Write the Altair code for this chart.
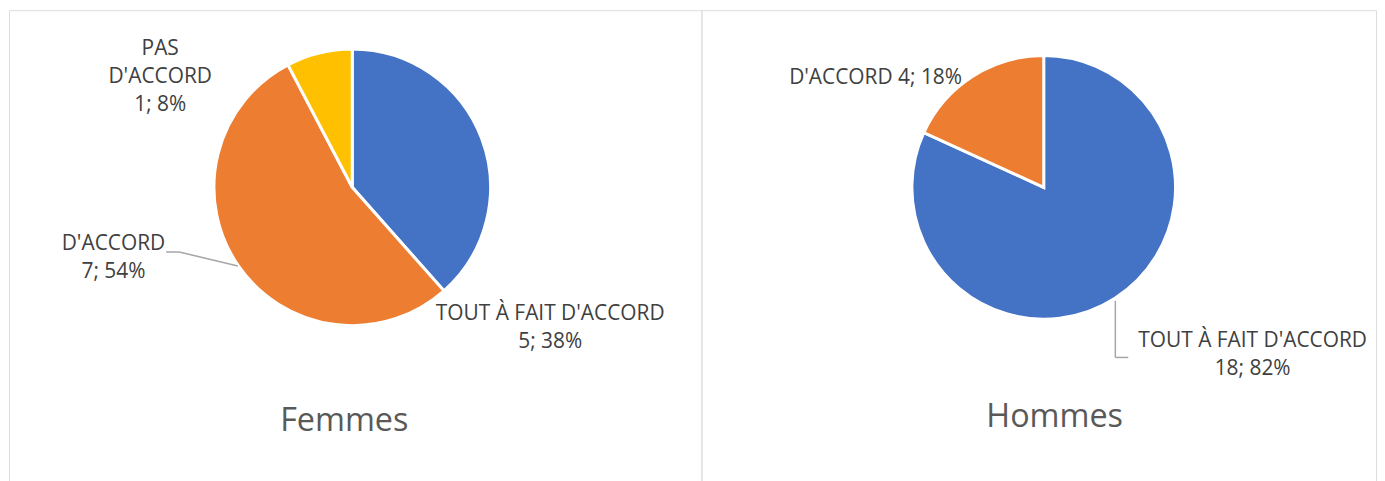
import altair as alt
import pandas as pd

# ---- data ----
categories = ["TOUT À FAIT D'ACCORD", "D'ACCORD", "PAS D'ACCORD"]
colors = ["#4472C4", "#ED7D31", "#FFC000"]
femmes_values = [5, 7, 1]
hommes_values = [18, 4]
panel_titles = ["Femmes", "Hommes"]

FONT = "Open Sans"
LABEL_COLOR = "#404040"
TITLE_COLOR = "#595959"
LEADER_COLOR = "#A6A6A6"


def pie_df(values):
    total = sum(values)
    rows = []
    for i, v in enumerate(values):
        rows.append({"cat": categories[i], "value": v, "ord": i,
                     "pct": round(100 * v / total)})
    return pd.DataFrame(rows)


fem = pie_df(femmes_values)
hom = pie_df(hommes_values)


def lbl(df, i):
    r = df.iloc[i]
    return f"{r['value']}; {r['pct']}%"


# label layout (panel pixel coordinates), text built from the data
fem_labels = pd.DataFrame([
    {"t": "PAS", "x": 152, "y": 39},
    {"t": "D'ACCORD", "x": 152, "y": 67},
    {"t": lbl(fem, 2), "x": 152, "y": 95},
    {"t": "D'ACCORD", "x": 105, "y": 235},
    {"t": lbl(fem, 1), "x": 105, "y": 263},
    {"t": "TOUT À FAIT D'ACCORD", "x": 544, "y": 305},
    {"t": lbl(fem, 0), "x": 544, "y": 334},
])
hom_labels = pd.DataFrame([
    {"t": "D'ACCORD " + lbl(hom, 1), "x": 175, "y": 68},
    {"t": "TOUT À FAIT D'ACCORD", "x": 554, "y": 332},
    {"t": lbl(hom, 0), "x": 554, "y": 361},
])
fem_leaders = pd.DataFrame([
    {"x": 158, "y": 243, "x2": 171, "y2": 243},
    {"x": 171, "y": 243, "x2": 230, "y2": 257},
])
hom_leaders = pd.DataFrame([
    {"x": 416, "y": 292, "x2": 416, "y2": 349},
    {"x": 416, "y": 349, "x2": 429, "y2": 349},
])

color_scale = alt.Scale(domain=categories, range=colors)


def panel(df, labels, leaders, title, cx, cy, r, tx, ty, w, h):
    arc = alt.Chart(df).mark_arc(radius=r, stroke="white", strokeWidth=3).encode(
        theta=alt.Theta("value:Q", stack=True),
        color=alt.Color("cat:N", scale=color_scale, legend=None),
        order=alt.Order("ord:Q"),
        x=alt.value(cx),
        y=alt.value(cy),
    )
    text = alt.Chart(labels).mark_text(
        font=FONT, fontSize=21, color=LABEL_COLOR, align="center", baseline="middle"
    ).encode(
        x=alt.X("x:Q", scale=None, axis=None),
        y=alt.Y("y:Q", scale=None, axis=None),
        text="t:N",
    )
    rules = alt.Chart(leaders).mark_rule(color=LEADER_COLOR, strokeWidth=1.5).encode(
        x=alt.X("x:Q", scale=None, axis=None),
        y=alt.Y("y:Q", scale=None, axis=None),
        x2="x2:Q",
        y2="y2:Q",
    )
    ttl = alt.Chart(pd.DataFrame({"t": [title]})).mark_text(
        font=FONT, fontSize=32.5, color=TITLE_COLOR, align="center", baseline="middle"
    ).encode(
        x=alt.value(tx), y=alt.value(ty), text="t:N"
    )
    return alt.layer(arc, rules, text, ttl).properties(width=w, height=h)


left = panel(fem, fem_labels, fem_leaders, panel_titles[0], 345, 178, 139, 337, 413, 696, 480)
right = panel(hom, hom_labels, hom_leaders, panel_titles[1], 344, 178, 132.5, 355, 409, 678, 480)

chart = alt.hconcat(left, right, spacing=0, bounds="flush").properties(
    padding={"left": 0, "top": 0, "right": 0, "bottom": 0}
).configure_view(stroke="#D9D9D9", strokeWidth=1.5).configure(background="white")

chart.save("out.html", embed_options={"renderer": "svg", "actions": False})
